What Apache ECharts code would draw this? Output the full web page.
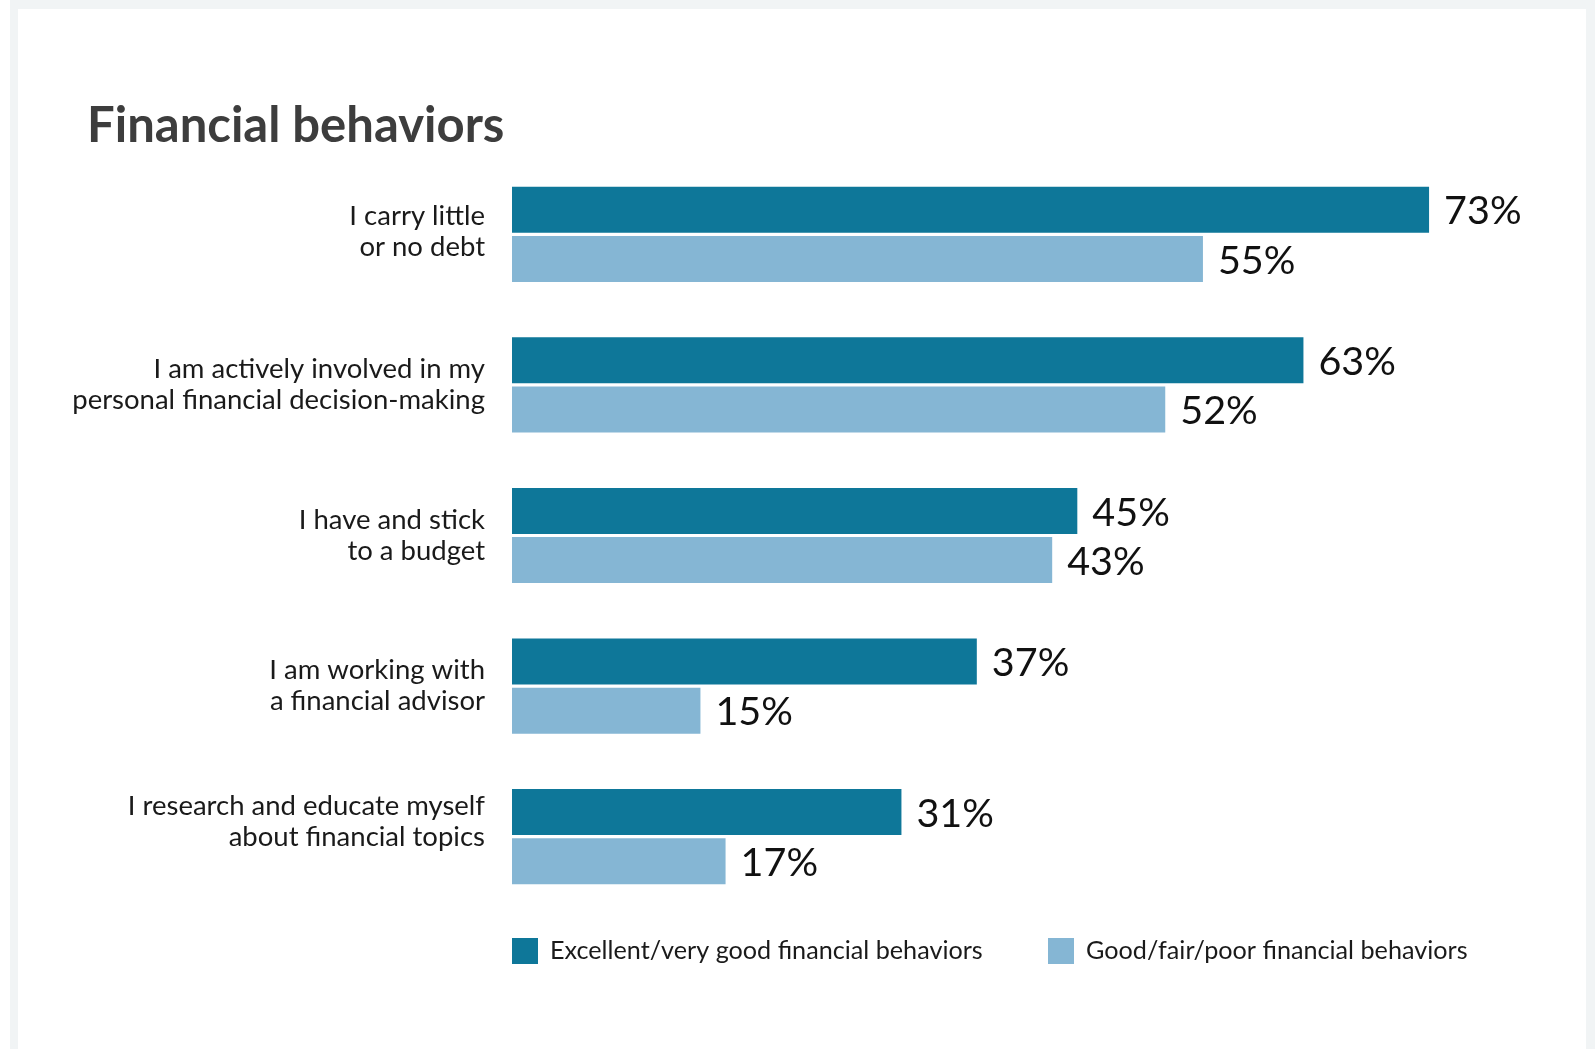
<!DOCTYPE html>
<html>
<head>
<meta charset="utf-8">
<script src="https://cdn.jsdelivr.net/npm/echarts@6/dist/echarts.min.js"></script>
<style>
  html, body { margin: 0; padding: 0; background: #ffffff; }
  #frame { position: absolute; left: 10px; top: 0; width: 1585px; height: 1049px; background: #f1f4f5; }
  #inner { position: absolute; left: 18px; top: 9px; width: 1568px; height: 1040px; background: #ffffff; }
  #chart { position: absolute; left: 0; top: 0; width: 1595px; height: 1049px; }
</style>
</head>
<body>
<div id="frame"></div>
<div id="inner"></div>
<div id="chart"></div>
<script>
const titleText = 'Financial behaviors';
const categories = [
  'I carry little\nor no debt',
  'I am actively involved in my\npersonal financial decision-making',
  'I have and stick\nto a budget',
  'I am working with\na financial advisor',
  'I research and educate myself\nabout financial topics'
];
const seriesNames = ['Excellent/very good financial behaviors', 'Good/fair/poor financial behaviors'];
const excellentValues = [73, 63, 45, 37, 31];
const goodFairPoorValues = [55, 52, 43, 15, 17];

const FONT = 'Lato';
const LABEL_SIZE = 27.5;
const labelShift = [3, 0, 0, 0, 15];
const rich = {
  a: { fontFamily: FONT, fontSize: LABEL_SIZE, color: '#1a1a1a', lineHeight: 31, align: 'right' }
};
labelShift.forEach(s => {
  rich['e' + s] = { fontSize: 1, lineHeight: s * 2, align: 'right' };
});

const chart = echarts.init(document.getElementById('chart'), null, { renderer: 'canvas' });
const legendCommon = {
  icon: 'rect', itemWidth: 26, itemHeight: 26, top: 938, orient: 'horizontal',
  selectedMode: false, padding: 0,
  textStyle: { fontFamily: FONT, fontSize: 25.2, color: '#1a1a1a', padding: [0, 0, 0, 7] }
};
const valueLabel = { show: true, position: 'right', distance: 15, offset: [0, 2], formatter: '{c}%', fontFamily: FONT, fontSize: 39.5, color: '#111111' };
chart.setOption({
  backgroundColor: 'transparent',
  animation: false,
  title: {
    text: titleText, left: 82, top: 97,
    textStyle: { fontFamily: FONT, fontWeight: 'bold', fontSize: 49, color: '#3d3d3d' }
  },
  legend: [
    Object.assign({}, legendCommon, { left: 512, data: [seriesNames[0]] }),
    Object.assign({}, legendCommon, { left: 1048, data: [seriesNames[1]] })
  ],
  grid: { left: 512, top: 159, width: 1005, height: 753, containLabel: false, outerBoundsMode: 'none' },
  xAxis: { type: 'value', min: 0, max: 80, show: false },
  yAxis: {
    type: 'category', inverse: true, data: categories,
    axisLine: { show: false }, axisTick: { show: false }, splitLine: { show: false },
    axisLabel: {
      margin: 27, align: 'right',
      fontFamily: FONT, fontSize: LABEL_SIZE, color: '#1a1a1a', lineHeight: 31,
      formatter: function (v, i) {
        const lines = v.split('\n').map(l => '{a|' + l + '}');
        const s = labelShift[i] || 0;
        if (s > 0) lines.push('{e' + s + '| }');
        return lines.join('\n');
      },
      rich: rich
    }
  },
  series: [
    {
      name: seriesNames[0], type: 'bar', data: excellentValues,
      barWidth: 46, barGap: '7%',
      itemStyle: { color: '#0e7799' },
      label: valueLabel
    },
    {
      name: seriesNames[1], type: 'bar', data: goodFairPoorValues,
      barWidth: 46, barGap: '7%',
      itemStyle: { color: '#85b6d4' },
      label: valueLabel
    }
  ]
});
</script>
</body>
</html>
